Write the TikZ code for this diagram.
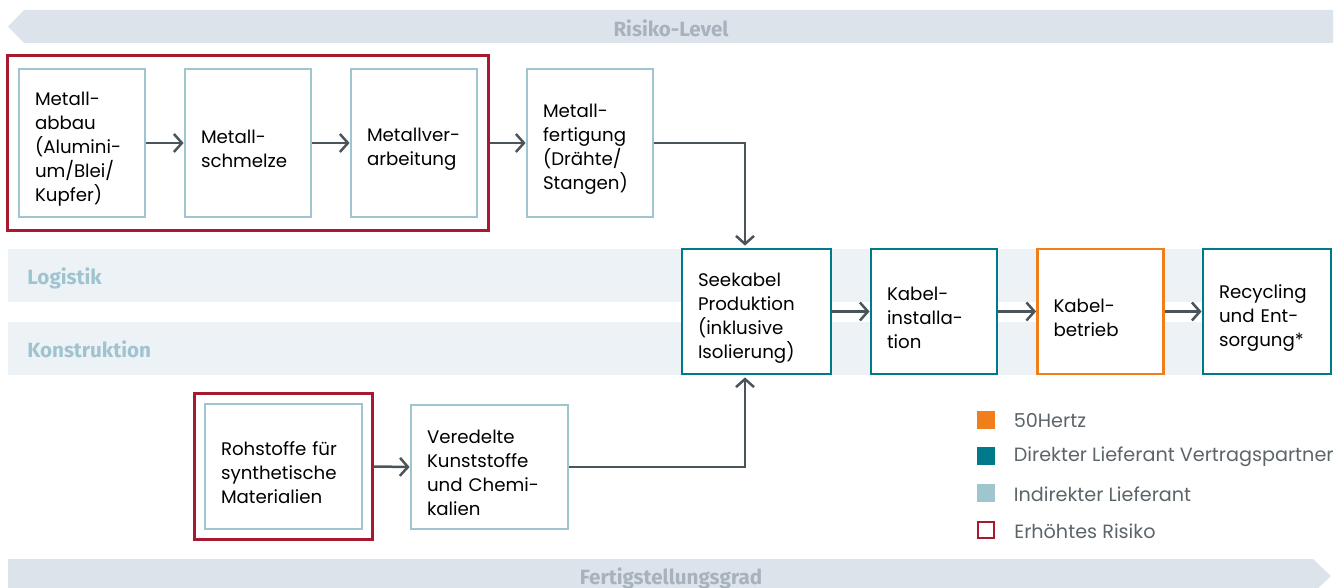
\documentclass[tikz,border=0pt]{standalone}
\usepackage{fontspec}
\setmainfont{Poppins}
\newfontfamily\bandfont{Fira Sans}
\usetikzlibrary{arrows.meta,positioning,fit}

\definecolor{bandgray}{HTML}{DDE3EA}
\definecolor{bandtext}{HTML}{A7B2BD}
\definecolor{lanefill}{HTML}{EDF2F6}
\definecolor{lanetext}{HTML}{9FC4CF}
\definecolor{indirekt}{HTML}{9FC5CF}
\definecolor{direkt}{HTML}{00798A}
\definecolor{hertz}{HTML}{F07F1B}
\definecolor{risiko}{HTML}{A6192E}
\definecolor{pfeil}{HTML}{4B5559}
\definecolor{legtextcol}{HTML}{5B6569}

\newcommand\stagefont{\fontsize{9.1}{12}\selectfont\hyphenpenalty=10000\exhyphenpenalty=10000\relax}

\tikzset{
  stage/.style={draw=#1, line width=1.4pt, fill=white, minimum width=63pt,
    minimum height=74pt, inner xsep=8pt, text width=47pt, align=left,
    font=\stagefont, execute at begin node={\rule{0pt}{13pt}}},
  wide/.style 2 args={minimum width=#1, text width=#2},
  riskframe/.style={draw=risiko, line width=1.3pt, inner sep=0pt},
  flow/.style={draw=pfeil, line width=1.25pt, -{Straight Barb[length=4pt,width=9pt]}},
  bandlabel/.style={font=\bandfont\bfseries\fontsize{10.3}{12}\selectfont, text=bandtext},
  lanelabel/.style={font=\bandfont\bfseries\fontsize{10.3}{12}\selectfont, text=lanetext, anchor=west, inner sep=0pt},
  legsq/.style={minimum size=9pt, inner sep=0pt},
  legtext/.style={font=\fontsize{9.6}{11}\selectfont, text=legtextcol, inner sep=0pt}
}

\begin{document}
\begin{tikzpicture}[x=0.5pt,y=-0.5pt]
  \useasboundingbox (0,0) rectangle (1339,588);
  \clip (0,0) rectangle (1339,588);

  % Baender
  \fill[bandgray] (8,26.5) -- (24,10) -- (1333,10) -- (1333,43) -- (24,43) -- cycle;
  \fill[bandgray] (8,559) -- (1313,559) -- (1331,576) -- (1313,593) -- (8,593) -- cycle;
  \node[bandlabel] (risk) at (671,28) {Risiko-Level};
  \node[bandlabel] (grad) at (671,578) {Fertigstellungsgrad};

  \fill[lanefill] (8,249) rectangle (1331,302);
  \fill[lanefill] (8,322) rectangle (1331,375);
  \node[lanelabel] (logistik) at (27,278) {Logistik};
  \node[lanelabel] (konstr) at (27,349) {Konstruktion};

  % Metallkette
  \node[stage=indirekt] (abbau) at (82,143) {Metall-\\abbau\\(Alumini-\\um/Blei/\\Kupfer)};
  \node[stage=indirekt] (schmelze) at (248,143) {Metall-\\schmelze};
  \node[stage=indirekt] (verarb) at (414,143) {Metallver-\\arbeitung};
  \node[stage=indirekt] (fertig) at (590,143) {Metall-\\fertigung\\(Drähte/\\Stangen)};
  \node[riskframe, inner xsep=5pt, inner ysep=6pt, fit=(abbau)(verarb)] (metallrisk) {};

  % Kabelkette
  \node[stage=direkt, wide={74.5pt}{58.5pt}, minimum height=62.5pt] (seekabel) at (756.5,311.5) {Seekabel\\Produktion\\(inklusive\\Isolierung)};
  \node[stage=direkt, minimum height=62.5pt] (install) at (934,311.5) {Kabel-\\installa-\\tion};
  \node[stage=hertz, minimum height=62.5pt] (betrieb) at (1100.5,311.5) {Kabel-\\betrieb};
  \node[stage=direkt, wide={64pt}{48pt}, minimum height=62.5pt] (recycling) at (1267,311.5) {Recycling\\und Ent-\\sorgung*};

  % Kunststoffkette
  \node[stage=indirekt, wide={78.5pt}{62.5pt}, minimum height=62.5pt] (rohstoffe) at (283.5,466.5) {Rohstoffe für\\synthetische\\Materialien};
  \node[stage=indirekt, wide={78.5pt}{62.5pt}, minimum height=62pt] (veredelt) at (489.5,467) {Veredelte\\Kunststoffe\\und Chemi-\\kalien};
  \node[riskframe, inner sep=4.5pt, fit=(rohstoffe)] (rohrisk) {};

  % Pfeile
  \draw[flow] (abbau) -- (schmelze);
  \draw[flow] (schmelze) -- (verarb);
  \draw[flow] (metallrisk.east |- verarb.east) -- (fertig.west);
  \draw[flow] (fertig.east) -| ([xshift=-5.75pt,yshift=1pt]seekabel.north);
  \draw[flow] (rohrisk.east) -- (veredelt.west);
  \draw[flow] (veredelt.east) -| ([xshift=-5.75pt,yshift=-1pt]seekabel.south);
  \draw[flow] (seekabel) -- (install);
  \draw[flow] (install) -- (betrieb);
  \draw[flow] (betrieb) -- (recycling);

  % Legende
  \node[legsq, fill=hertz] (sqhertz) at (986,420) {};
  \node[legsq, fill=direkt] (sqdirekt) at (986,456) {};
  \node[legsq, fill=indirekt] (sqindirekt) at (986,493) {};
  \node[legsq, draw=risiko, line width=1.2pt, minimum size=8pt] (sqrisiko) at (986,530) {};
  \node[legtext, right=9pt of sqhertz, yshift=-0.5pt] (txhertz) {50Hertz};
  \node[legtext, right=9pt of sqdirekt, yshift=-0.5pt] (txdirekt) {Direkter Lieferant Vertragspartner};
  \node[legtext, right=9pt of sqindirekt, yshift=-0.5pt] (txindirekt) {Indirekter Lieferant};
  \node[legtext, right=9.4pt of sqrisiko, yshift=-0.5pt] (txrisiko) {Erhöhtes Risiko};
\end{tikzpicture}
\end{document}
